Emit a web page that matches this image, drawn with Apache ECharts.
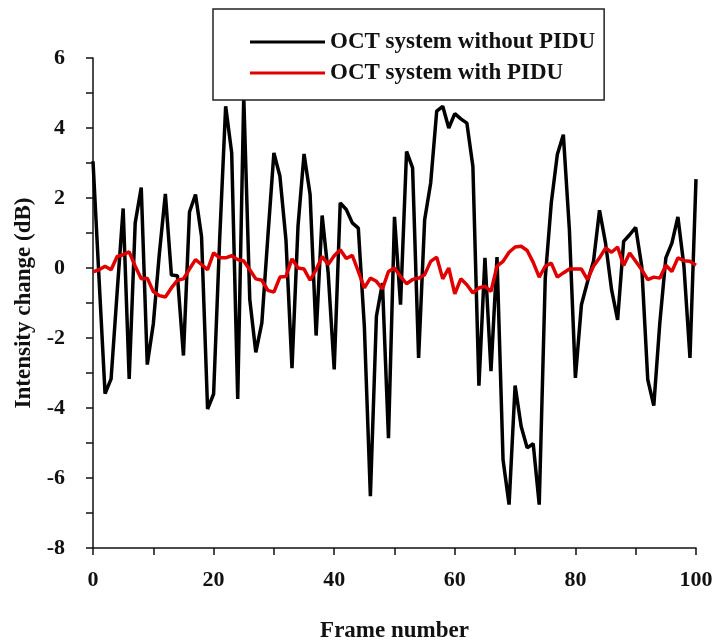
<!DOCTYPE html>
<html>
<head>
<meta charset="utf-8">
<script src="https://cdn.jsdelivr.net/npm/echarts@6/dist/echarts.min.js"></script>
<style>
  html, body { margin: 0; padding: 0; background: #fff; }
  #chart { width: 713px; height: 640px; }
</style>
</head>
<body>
<div id="chart"></div>
<script>
const withoutPidu = [
  3.05, -0.3, -3.59, -3.17, -0.7, 1.7, -3.17, 1.29, 2.3, -2.76,
  -1.6, 0.4, 2.12, -0.2, -0.22, -2.5, 1.6, 2.1, 0.9, -4.03,
  -3.6, 0.8, 4.62, 3.29, -3.74, 4.9, -0.9, -2.41, -1.57, 0.9,
  3.29, 2.62, 0.8, -2.86, 1.2, 3.26, 2.1, -1.93, 1.5, -0.14,
  -2.9, 1.86, 1.67, 1.29, 1.14, -1.67, -6.52, -1.38, -0.43, -4.86,
  1.46, -1.05, 3.33, 2.86, -2.57, 1.38, 2.43, 4.48, 4.62, 4.0,
  4.41, 4.26, 4.14, 2.9, -3.36, 0.29, -2.95, 0.31, -5.48, -6.76,
  -3.36, -4.52, -5.14, -5.02, -6.76, -0.29, 1.86, 3.24, 3.81, 1.1,
  -3.14, -1.05, -0.4, 0.19, 1.65, 0.71, -0.62, -1.48, 0.76, 0.95,
  1.16, 0.05, -3.19, -3.93, -1.57, 0.29, 0.71, 1.46, 0.05, -2.57,
  2.54
];

const withPidu = [
  -0.11, -0.05, 0.05, -0.05, 0.33, 0.38, 0.46, 0.05, -0.31, -0.29,
  -0.67, -0.79, -0.83, -0.57, -0.35, -0.31, -0.03, 0.24, 0.1, -0.05,
  0.43, 0.29, 0.29, 0.35, 0.24, 0.2, -0.05, -0.31, -0.35, -0.64,
  -0.69, -0.26, -0.24, 0.26, 0.0, -0.03, -0.35, -0.05, 0.33, 0.1,
  0.35, 0.52, 0.27, 0.36, -0.1, -0.57, -0.29, -0.38, -0.6, -0.1,
  0.0, -0.24, -0.45, -0.33, -0.29, -0.19, 0.19, 0.31, -0.31, 0.0,
  -0.74, -0.31, -0.48, -0.71, -0.57, -0.52, -0.67, 0.05, 0.19, 0.45,
  0.6, 0.62, 0.5, 0.16, -0.26, 0.05, 0.14, -0.26, -0.14, -0.03,
  -0.03, -0.03, -0.33, 0.05, 0.29, 0.57, 0.45, 0.6, 0.07, 0.43,
  0.19, -0.05, -0.33, -0.26, -0.29, 0.08, -0.1, 0.29, 0.21, 0.19,
  0.08
];

const xTicks = { min: 0, max: 100, step: 10, labelEvery: 20 };
const yTicks = { min: -8, max: 6, step: 1, labelEvery: 2 };

const seriesNames = ["OCT system without PIDU", "OCT system with PIDU"];

const font = "'Liberation Serif', 'Times New Roman', serif";

function pairs(values) {
  return values.map((v, i) => [i, v]);
}

const chart = echarts.init(document.getElementById("chart"));

const option = {
  animation: false,
  backgroundColor: "#fff",
  grid: { left: 93, right: 17, top: 58, bottom: 92, outerBoundsMode: "none" },
  legend: {
    data: seriesNames,
    orient: "vertical",
    left: 213,
    top: 9,
    padding: [21, 9, 15, 37],
    icon: "rect",
    itemWidth: 75,
    itemHeight: 3,
    itemGap: 7,
    backgroundColor: "#fff",
    borderColor: "#222",
    borderWidth: 1.5,
    borderRadius: 0,
    textStyle: {
      fontFamily: font,
      fontWeight: "bold",
      fontSize: 23,
      color: "#111",
      lineHeight: 24,
    },
  },
  xAxis: {
    type: "value",
    min: xTicks.min,
    max: xTicks.max,
    interval: xTicks.step,
    name: "Frame number",
    nameLocation: "middle",
    nameGap: 72,
    nameTextStyle: { fontFamily: font, fontWeight: "bold", fontSize: 23, color: "#111" },
    axisLine: { onZero: false, lineStyle: { color: "#111", width: 1.5 } },
    axisTick: { length: 7, lineStyle: { color: "#111", width: 1.5 } },
    axisLabel: {
      margin: 21,
      fontFamily: font,
      fontWeight: "bold",
      fontSize: 22,
      color: "#111",
      formatter: (v) => (v % xTicks.labelEvery === 0 ? String(v) : ""),
    },
    splitLine: { show: false },
  },
  yAxis: {
    type: "value",
    min: yTicks.min,
    max: yTicks.max,
    interval: yTicks.step,
    name: "Intensity change (dB)",
    nameLocation: "middle",
    nameGap: 53,
    nameTextStyle: { fontFamily: font, fontWeight: "bold", fontSize: 23, color: "#111" },
    axisLine: { onZero: false, lineStyle: { color: "#111", width: 1.5 } },
    axisTick: { length: 7, lineStyle: { color: "#111", width: 1.5 } },
    axisLabel: {
      margin: 28,
      fontFamily: font,
      fontWeight: "bold",
      fontSize: 22,
      color: "#111",
      formatter: (v) => (v % yTicks.labelEvery === 0 ? String(v) : ""),
    },
    splitLine: { show: false },
  },
  series: [
    {
      name: seriesNames[0],
      type: "line",
      data: pairs(withoutPidu),
      symbol: "none",
      lineStyle: { color: "#000", width: 3.5 },
      itemStyle: { color: "#000" },
      z: 2,
    },
    {
      name: seriesNames[1],
      type: "line",
      data: pairs(withPidu),
      symbol: "none",
      lineStyle: { color: "#e00000", width: 3.5 },
      itemStyle: { color: "#e00000" },
      z: 3,
    },
  ],
};

chart.setOption(option);
</script>
</body>
</html>
